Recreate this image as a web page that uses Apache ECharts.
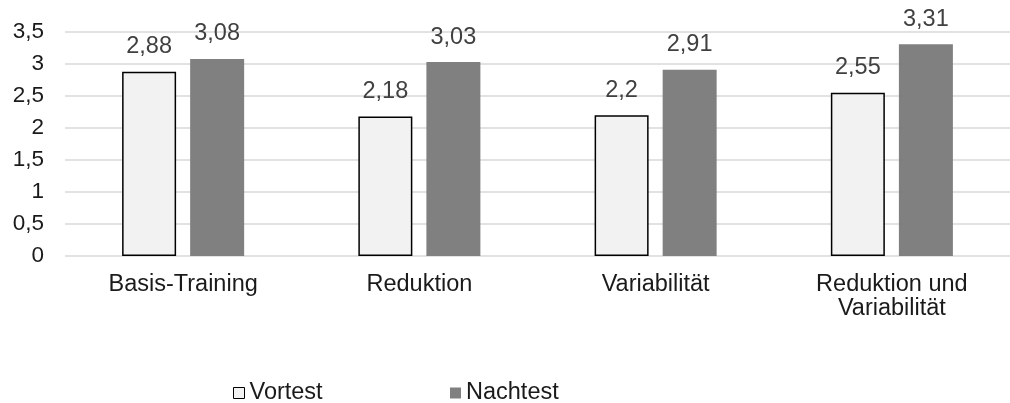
<!DOCTYPE html>
<html>
<head>
<meta charset="utf-8">
<script src="https://cdn.jsdelivr.net/npm/echarts@6/dist/echarts.min.js"></script>
<style>html,body{margin:0;padding:0;background:#fff}#c{width:1010px;height:403px}</style>
</head>
<body>
<div id="c"></div>
<script>
const categories = ['Basis-Training', 'Reduktion', 'Variabilität', 'Reduktion und\nVariabilität'];
const vortest = [2.88, 2.18, 2.2, 2.55];
const nachtest = [3.08, 3.03, 2.91, 3.31];
const seriesNames = ['Vortest', 'Nachtest'];

const FONT = '"Liberation Sans", Arial, sans-serif';
const comma = v => String(v).replace('.', ',');

const chart = echarts.init(document.getElementById('c'), null, {renderer: 'canvas'});
chart.setOption({
  animation: false,
  backgroundColor: '#ffffff',
  textStyle: {fontFamily: FONT},
  grid: {left: 65, width: 953, top: 32, height: 224},
  legend: [
    {data: [seriesNames[0]], left: 228, top: 376, icon: 'rect', itemWidth: 11, itemHeight: 11, itemStyle: {borderWidth: 1},
     textStyle: {fontFamily: FONT, fontSize: 23.5, color: '#1a1a1a'}},
    {data: [seriesNames[1]], left: 445, top: 376, icon: 'rect', itemWidth: 11, itemHeight: 11,
     textStyle: {fontFamily: FONT, fontSize: 23.5, color: '#1a1a1a'}}
  ],
  xAxis: {
    type: 'category',
    data: categories,
    axisLine: {show: false},
    axisTick: {show: false},
    axisLabel: {fontFamily: FONT, fontSize: 23.5, color: '#1a1a1a', margin: 17, lineHeight: 24, interval: 0}
  },
  yAxis: {
    type: 'value',
    min: 0, max: 3.5, interval: 0.5,
    axisLine: {show: false},
    axisTick: {show: false},
    splitLine: {lineStyle: {color: '#d9d9d9', width: 1.5}},
    axisLabel: {fontFamily: FONT, fontSize: 22.5, color: '#1a1a1a', margin: 21, formatter: comma}
  },
  series: [
    {
      name: seriesNames[0], type: 'bar', data: vortest, barWidth: 54, barGap: '26%',
      itemStyle: {color: '#f2f2f2', borderColor: '#000000', borderWidth: 1.5},
      label: {show: true, position: 'top', distance: 13, fontFamily: FONT, fontSize: 23.5, color: '#404040', formatter: p => comma(p.value)}
    },
    {
      name: seriesNames[1], type: 'bar', data: nachtest, barWidth: 54, barGap: '26%',
      itemStyle: {color: '#808080'},
      label: {show: true, position: 'top', distance: 13, fontFamily: FONT, fontSize: 23.5, color: '#404040', formatter: p => comma(p.value)}
    }
  ]
});
</script>
</body>
</html>
